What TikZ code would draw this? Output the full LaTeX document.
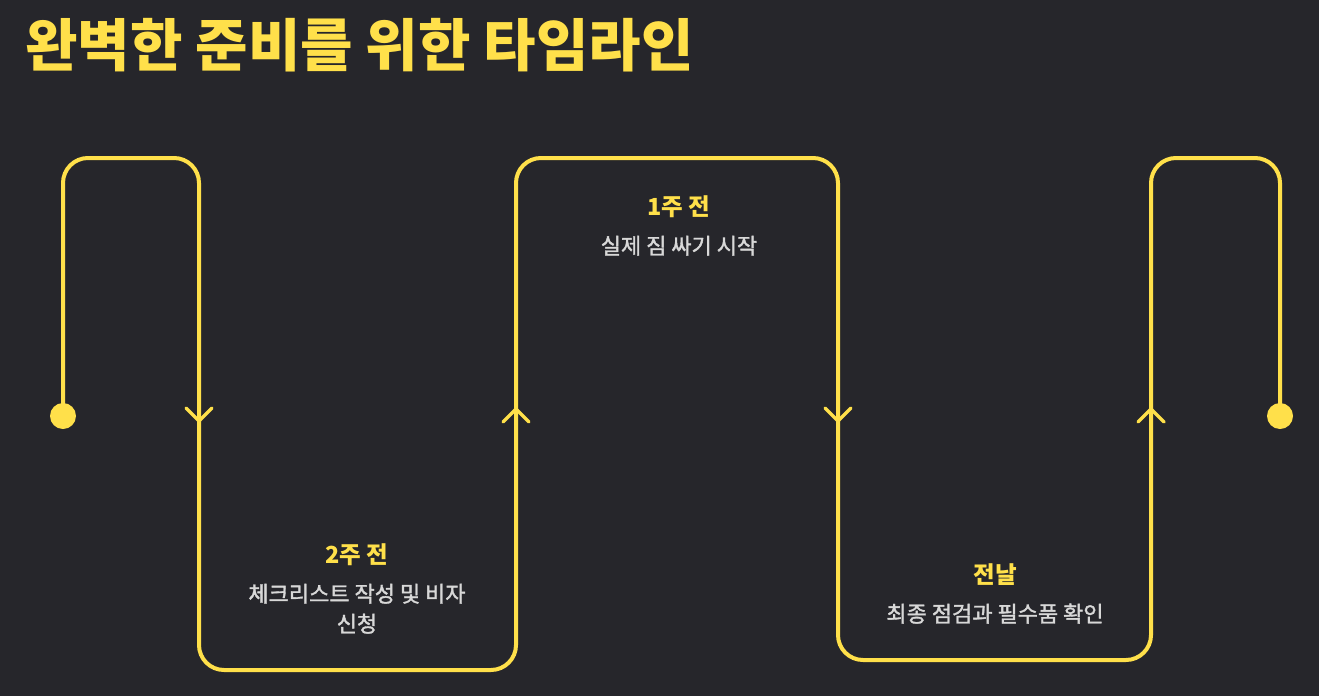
\documentclass[tikz,border=0pt]{standalone}
\usepackage{fontspec}
\setmainfont{Noto Sans CJK KR}
\newfontfamily\descfont[FakeBold=1.6]{Noto Sans CJK KR}
\usepackage{tikz}
\usetikzlibrary{positioning}

\definecolor{bgdark}{HTML}{26262B}
\definecolor{lineyellow}{HTML}{FFE04A}
\definecolor{descgrey}{HTML}{D8D8D8}

\tikzset{
  timeline/.style={lineyellow, line width=4pt, rounded corners=25pt},
  chevron/.style={lineyellow, line width=3.5pt, line cap=round, line join=round},
  stagelabel/.style={text=lineyellow, font=\bfseries\fontsize{23.5}{27}\selectfont, inner sep=0pt, anchor=base},
  stagedesc/.style={text=descgrey, font=\descfont\fontsize{22}{30}\selectfont, align=center, inner sep=0pt, anchor=base},
}

\begin{document}
\begin{tikzpicture}[x=1pt, y=-1pt]
      % 1. 배경
      \fill[bgdark] (0,0) rectangle (1319,696);
      \useasboundingbox (0,0) rectangle (1319,696);

      % 2. 제목
      \node[anchor=base west, inner sep=0pt, text=lineyellow,
            font=\bfseries\fontsize{57}{60}\selectfont] (title) at (25,66) {완벽한 준비를 위한 타임라인};

      % 3. 타임라인의 꺾이는 점
      \coordinate (start) at (63,416);
      \coordinate (c1) at (63,158);
      \coordinate (c2) at (199,158);
      \coordinate (c3) at (199,670);
      \coordinate (c4) at (516,670);
      \coordinate (c5) at (516,158);
      \coordinate (c6) at (838,158);
      \coordinate (c7) at (838,660);
      \coordinate (c8) at (1151,660);
      \coordinate (c9) at (1151,158);
      \coordinate (c10) at (1280,158);
      \coordinate (finish) at (1280,416);

      % 4. 선 그리기
      \draw[timeline] (start) -- (c1) -- (c2) -- (c3) -- (c4) -- (c5) -- (c6)
            -- (c7) -- (c8) -- (c9) -- (c10) -- (finish);
      \fill[lineyellow] (start) circle (13);
      \fill[lineyellow] (finish) circle (13);

      % 5. 방향 표시
      \foreach \x in {199,838}
        \draw[chevron] (\x-13,408) -- (\x,421) -- (\x+13,408);
      \foreach \x in {516,1151}
        \draw[chevron] (\x-13,422) -- (\x,409) -- (\x+13,422);

      % 6. 단계 이름과 설명
      \node[stagelabel] (week2) at (357,563) {2주 전};
      \node[stagedesc] (week2desc) at (357,632) {체크리스트 작성 및 비자\\신청};
      \node[stagelabel] (week1) at (679,215) {1주 전};
      \node[stagedesc] (week1desc) at (679,254) {실제 짐 싸기 시작};
      \node[stagelabel] (daybefore) at (995,583) {전날};
      \node[stagedesc] (daybeforedesc) at (995,622) {최종 점검과 필수품 확인};
\end{tikzpicture}
\end{document}
